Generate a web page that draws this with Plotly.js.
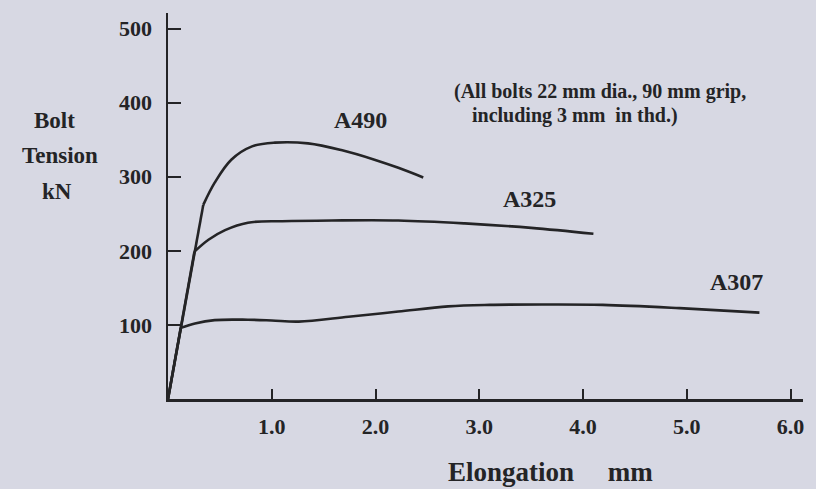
<!DOCTYPE html>
<html>
<head>
<meta charset="utf-8">
<script src="https://cdn.plot.ly/plotly-3.0.1.min.js"></script>
<style>
  html, body { margin: 0; padding: 0; background: #d7d8e3; }
  #chart { width: 816px; height: 489px; }
</style>
</head>
<body>
<div id="chart"></div>
<script>
// Elongation (mm) vs bolt tension (kN).
// The first two points of each series are the shared elastic line (origin -> yield knee).
const a490Elong   = [0, 0.34, 0.45, 0.61, 0.81, 1.03, 1.35, 1.67, 1.99, 2.22, 2.46];
const a490Tension = [0, 262, 292, 323, 341, 346, 345, 336, 323, 312, 299];

const a325Elong   = [0, 0.255, 0.39, 0.55, 0.77, 1.10, 1.58, 2.22, 2.86, 3.50, 4.10];
const a325Tension = [0, 199, 215, 228, 238, 240, 241, 241, 237, 231, 223];

const a307Elong   = [0, 0.123, 0.26, 0.45, 0.77, 1.00, 1.26, 1.74, 2.22, 2.70, 3.10, 3.60, 4.19, 4.93, 5.70];
const a307Tension = [0, 96, 102, 106.5, 107, 106, 104.5, 111, 118, 125, 127, 127.5, 127, 122.6, 116.6];

const xTickVals = [1, 2, 3, 4, 5, 6];
const xTickText = ['1.0', '2.0', '3.0', '4.0', '5.0', '6.0'];
const yTickVals = [100, 200, 300, 400, 500];
const yTickText = ['100', '200', '300', '400', '500'];

const ink = '#242426';
const bg = '#d7d8e3';
const serif = 'Liberation Serif, Times New Roman, serif';

function elastic(x, y) {
  return {
    x: x.slice(0, 2), y: y.slice(0, 2), type: 'scatter', mode: 'lines',
    line: { color: ink, width: 2.6 },
    hoverinfo: 'skip', showlegend: false
  };
}
function plastic(x, y) {
  return {
    x: x.slice(1), y: y.slice(1), type: 'scatter', mode: 'lines',
    line: { color: ink, width: 2.6, shape: 'spline', smoothing: 1.0 },
    hoverinfo: 'skip', showlegend: false
  };
}

const data = [
  elastic(a490Elong, a490Tension), plastic(a490Elong, a490Tension),
  elastic(a325Elong, a325Tension), plastic(a325Elong, a325Tension),
  elastic(a307Elong, a307Tension), plastic(a307Elong, a307Tension)
];

function txt(text, x, y, size, xanchor) {
  return {
    text: '<b>' + text + '</b>', xref: 'paper', yref: 'paper',
    x: x, y: y, xanchor: xanchor || 'center', yanchor: 'middle',
    showarrow: false, font: { family: serif, size: size, color: ink }
  };
}
// pixel -> paper helpers for plot area (l=168, width 635; bottom 399, height 386)
const px = v => (v - 168) / 635;
const py = v => (399 - v) / 386;

const tickFont = { family: serif, size: 22, color: ink, weight: 'bold' };

const layout = {
  width: 816, height: 489,
  margin: { l: 168, r: 13, t: 13, b: 90 },
  paper_bgcolor: bg, plot_bgcolor: bg,
  showlegend: false,
  xaxis: {
    range: [0, 6.12], showgrid: false, zeroline: false,
    showline: true, linecolor: ink, linewidth: 2.5,
    ticks: 'inside', ticklen: 10, tickwidth: 2, tickcolor: ink,
    tickvals: xTickVals, ticktext: xTickText,
    tickfont: tickFont,
    ticklabelstandoff: 6
  },
  yaxis: {
    range: [0, 521], showgrid: false, zeroline: false,
    showline: true, linecolor: ink, linewidth: 2.5,
    ticks: 'inside', ticklen: 13, tickwidth: 2, tickcolor: ink,
    tickvals: yTickVals, ticktext: yTickText,
    tickfont: tickFont,
    ticklabelstandoff: 9
  },
  annotations: [
    txt('Bolt', px(55), py(120), 23),
    txt('Tension', px(60), py(155), 23),
    txt('kN', px(57), py(191), 23),
    txt('A490', px(360), py(120), 24),
    txt('A325', px(529), py(199), 24),
    txt('A307', px(736), py(282), 24),
    txt('(All bolts 22 mm dia., 90 mm grip,', px(452), py(92), 20, 'left'),
    txt('including 3 mm&nbsp;&nbsp;in thd.)', px(470), py(115), 20, 'left'),
    txt('Elongation&nbsp;&nbsp;&nbsp;&nbsp;&nbsp;mm', px(550), py(472), 27)
  ]
};

Plotly.newPlot('chart', data, layout, { displayModeBar: false, staticPlot: true });
</script>
</body>
</html>
